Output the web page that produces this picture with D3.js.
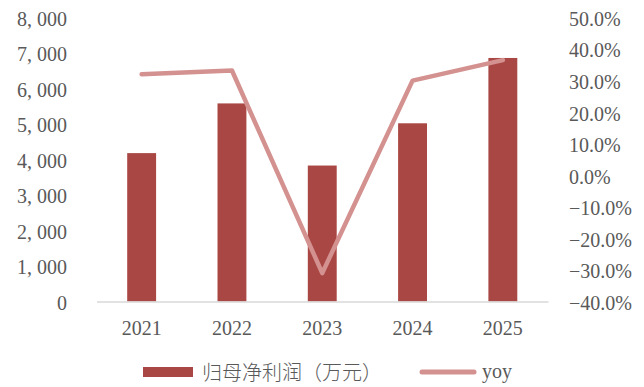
<!DOCTYPE html>
<html>
<head>
<meta charset="utf-8">
<script src="https://cdn.jsdelivr.net/npm/d3@7"></script>
<style>
  body { margin: 0; background: #fff; }
  svg { display: block; }
</style>
</head>
<body>
<svg id="chart" width="644" height="387"></svg>
<script>
// values
const years = ['2021', '2022', '2023', '2024', '2025']
const profit = [4180, 5580, 3830, 5020, 6860]   // 归母净利润（万元）
const yoy = [32.0, 33.2, -31.0, 30.0, 36.5]      // %
const leftTicks = [0, 1000, 2000, 3000, 4000, 5000, 6000, 7000, 8000]
const rightTicks = [-40, -30, -20, -10, 0, 10, 20, 30, 40, 50]

const barColor = '#A94744'
const lineColor = '#D3918F'
const textColor = '#595959'
const numFont = '"Liberation Serif", "DejaVu Serif", serif'

const svg = d3.select('#chart')

let x = d3.scaleBand().domain(years).range([96.5, 548]).paddingInner(0.68).paddingOuter(0.34)
let yLeft = d3.scaleLinear().domain([0, 8000]).range([301.5, 17.5])
let yRight = d3.scaleLinear().domain([-40, 50]).range([301.5, 17.5])

// bars
svg.append('g').selectAll('rect').data(profit).enter()
    .append('rect')
    .attr('x', (d, i) => x(years[i]))
    .attr('width', x.bandwidth())
    .attr('y', d => yLeft(d))
    .attr('height', d => yLeft(0) - yLeft(d))
    .attr('fill', barColor)

// x axis
let xAxis = svg.append('g')
    .attr('transform', 'translate(0,301.5)')
    .call(d3.axisBottom(x).tickSize(0).tickPadding(19))
xAxis.select('.domain').attr('stroke', '#D9D9D9').attr('stroke-width', 1.5)

// yoy line
let line = d3.line()
    .x((d, i) => x(years[i]) + x.bandwidth() / 2)
    .y(d => yRight(d))
svg.append('path')
    .datum(yoy)
    .attr('d', line)
    .attr('fill', 'none')
    .attr('stroke', lineColor)
    .attr('stroke-width', 4.5)
    .attr('stroke-linejoin', 'round')
    .attr('stroke-linecap', 'round')

// left axis (the original font draws a wide comma, hence the gap)
let leftAxis = svg.append('g')
    .attr('transform', 'translate(67,1.5)')
    .call(d3.axisLeft(yLeft).tickValues(leftTicks).tickSize(0).tickPadding(0)
        .tickFormat(d => d3.format(',')(d).replace(',', ', ')))
leftAxis.select('.domain').remove()
leftAxis.selectAll('text').attr('xml:space', 'preserve').style('white-space', 'pre')

// right axis
let rightAxis = svg.append('g')
    .attr('transform', 'translate(569,1.5)')
    .call(d3.axisRight(yRight).tickValues(rightTicks).tickSize(0).tickPadding(0).tickFormat(d => d3.format('.1f')(d) + '%'))
rightAxis.select('.domain').remove()

svg.selectAll('.tick text')
    .attr('fill', textColor)
    .style('font-family', numFont)
    .style('font-size', '20px')

// legend
let legend = svg.append('g')
legend.append('rect')
    .attr('x', 143).attr('y', 367).attr('width', 50).attr('height', 10)
    .attr('fill', barColor)
legend.append('text')
    .attr('x', 202).attr('y', 380)
    .attr('fill', textColor)
    .style('font-family', '"Noto Sans CJK SC", sans-serif')
    .style('font-size', '20px')
    .style('font-weight', 300)
    .text('归母净利润（万元）')
legend.append('line')
    .attr('x1', 422).attr('x2', 474).attr('y1', 372).attr('y2', 372)
    .attr('stroke', lineColor)
    .attr('stroke-width', 5)
    .attr('stroke-linecap', 'round')
legend.append('text')
    .attr('x', 482).attr('y', 378)
    .attr('fill', textColor)
    .style('font-family', numFont)
    .style('font-size', '20px')
    .text('yoy')
</script>
</body>
</html>
